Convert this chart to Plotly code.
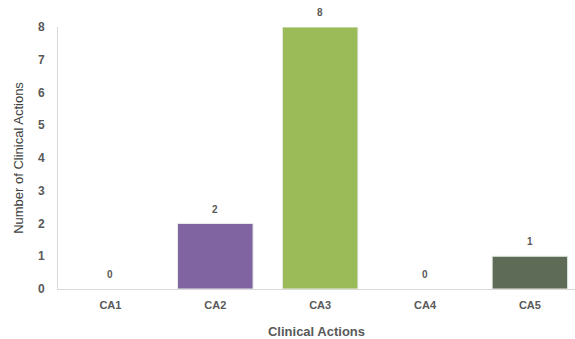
import plotly.graph_objects as go

categories = ["CA1", "CA2", "CA3", "CA4", "CA5"]
counts = [0, 2, 8, 0, 1]
bar_colors = ["#4F81BD", "#8064A2", "#9BBB59", "#4BACC6", "#5E6B57"]
y_ticks = [0, 1, 2, 3, 4, 5, 6, 7, 8]

FONT = "Liberation Sans, Arial, sans-serif"

# empty bars get no outline so nothing shows at the baseline
outline_widths = [1 if v > 0 else 0 for v in counts]

fig = go.Figure(
    go.Bar(
        x=categories,
        y=counts,
        marker=dict(color=bar_colors, line=dict(color="#E8EBE4", width=outline_widths)),
        hoverinfo="x+y",
    )
)

# value labels sitting above each bar
for cat, val in zip(categories, counts):
    fig.add_annotation(
        x=cat,
        y=val,
        text=str(val),
        showarrow=False,
        yanchor="bottom",
        yshift=7,
        font=dict(family=FONT, size=10, color="#595959", weight="bold"),
    )

fig.update_layout(
    width=575,
    height=339,
    margin=dict(l=58, r=0, t=27, b=50),
    paper_bgcolor="white",
    plot_bgcolor="white",
    bargap=0.28,
    showlegend=False,
    font=dict(family=FONT, color="#595959"),
)

fig.update_xaxes(
    range=[-0.5, 4.43],
    showgrid=False,
    showline=True,
    linecolor="#D9D9D9",
    linewidth=1,
    zeroline=False,
    ticks="",
    ticklabelstandoff=6,
    tickfont=dict(family=FONT, size=11, color="#595959", weight="bold"),
    title=dict(
        text="Clinical Actions",
        font=dict(family=FONT, size=13, color="#595959", weight="bold"),
        standoff=17,
    ),
)

fig.update_yaxes(
    range=[0, 8],
    tickvals=y_ticks,
    showgrid=False,
    showline=True,
    linecolor="#D9D9D9",
    linewidth=1,
    zeroline=False,
    ticks="",
    ticklabelstandoff=10,
    tickfont=dict(family=FONT, size=12, color="#595959", weight="bold"),
    title=dict(
        text="Number of Clinical Actions",
        font=dict(family=FONT, size=13, color="#404040"),
        standoff=11,
    ),
)

fig.write_html("out.html")
